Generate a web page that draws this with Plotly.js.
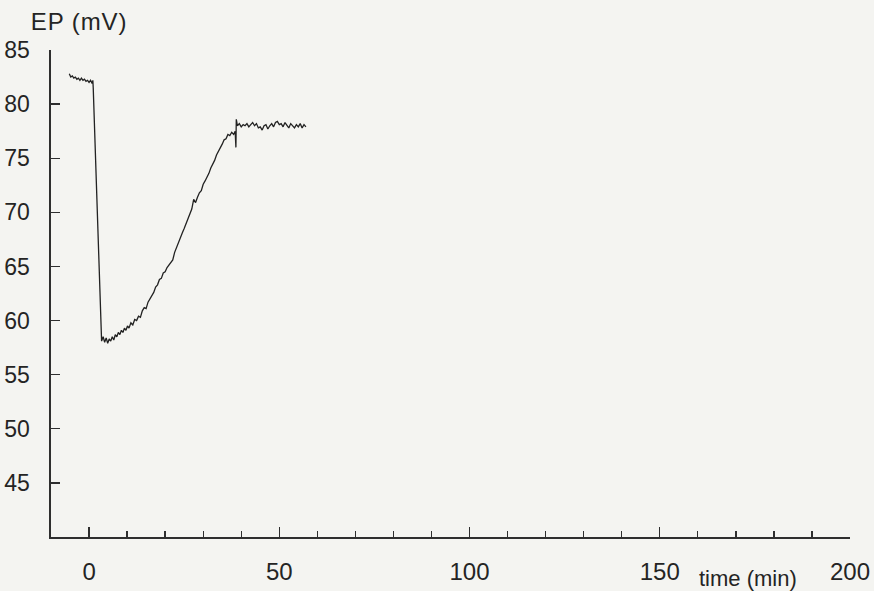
<!DOCTYPE html>
<html>
<head>
<meta charset="utf-8">
<script src="https://cdn.plot.ly/plotly-3.0.1.min.js"></script>
<style>
html,body{margin:0;padding:0;background:#f4f4f1;}
#chart{width:874px;height:591px;}
.annotation-text.ep-title{letter-spacing:0.9px;}
</style>
</head>
<body>
<div id="chart"></div>
<script>
// Time (min) and endocochlear potential EP (mV)
const timeMin = [
  -5.2,-4.8,-4.4,-4.0,-3.6,-3.2,-2.8,-2.4,-2.0,-1.6,-1.2,-0.8,-0.4,0.0,0.4,0.8,1.0,1.1,
  3.3,3.7,4.1,4.5,4.9,5.3,5.7,6.1,6.5,6.9,7.3,7.7,8.1,8.5,8.9,9.3,9.7,10.1,10.5,
  11.0,11.5,12.0,12.5,13.0,13.5,14.0,14.5,15.0,15.5,16.0,16.5,17.0,17.5,18.0,18.5,19.0,19.5,20.0,
  20.5,21.0,21.5,22.0,22.5,23.0,23.5,24.0,24.5,25.0,25.5,26.0,26.5,27.0,27.5,28.0,28.5,29.0,29.5,30.0,
  30.5,31.0,31.5,32.0,32.5,33.0,33.5,34.0,34.5,35.0,35.5,36.0,36.5,37.0,37.5,38.0,38.4,38.6,38.7,
  39.0,39.5,40.0,40.5,41.0,41.5,42.0,42.5,43.0,43.5,44.0,44.5,45.0,45.5,46.0,46.5,47.0,47.5,48.0,
  48.5,49.0,49.5,50.0,50.5,51.0,51.5,52.0,52.5,53.0,53.5,54.0,54.5,55.0,55.5,56.0,56.5,57.0
];
const epMv = [
  82.8,82.5,82.6,82.4,82.5,82.3,82.4,82.2,82.4,82.2,82.3,82.1,82.2,82.0,82.2,81.9,82.2,81.5,
  58.1,58.5,58.0,58.4,57.9,58.3,58.1,58.5,58.2,58.7,58.5,58.9,58.7,59.1,58.9,59.3,59.1,59.5,59.3,
  59.8,59.6,60.1,60.0,60.4,60.3,60.9,61.2,61.1,61.7,62.0,62.4,62.6,63.1,63.3,63.8,63.9,64.4,64.5,
  64.9,65.1,65.4,65.6,66.3,66.8,67.2,67.6,68.1,68.5,69.0,69.3,69.9,70.3,71.2,70.9,71.4,71.8,72.0,72.6,
  72.9,73.2,73.6,74.1,74.4,74.8,75.3,75.6,76.0,76.3,76.7,76.8,77.2,77.1,77.4,77.2,77.5,76.0,78.6,
  78.0,78.2,77.9,78.1,78.0,78.2,77.9,78.1,78.3,78.0,78.2,77.8,77.9,77.6,78.0,78.1,77.7,78.0,78.2,
  77.9,78.3,78.4,78.1,78.2,77.9,78.3,78.1,77.8,78.2,78.0,77.8,78.1,77.9,78.2,77.8,78.1,77.9
];
const yTicks = [45, 50, 55, 60, 65, 70, 75, 80, 85];
const xTicks = [0, 50, 100, 150, 200];

const trace = {
  x: timeMin, y: epMv, type: 'scatter', mode: 'lines',
  line: {color: '#222222', width: 1.3},
  hoverinfo: 'skip'
};

const txt = '#242424';
const layout = {
  width: 874, height: 591,
  margin: {l: 51, r: 24, t: 50, b: 54},
  paper_bgcolor: '#f4f4f1', plot_bgcolor: '#f4f4f1',
  showlegend: false,
  xaxis: {
    range: [-10, 200], showgrid: false, zeroline: false,
    showline: true, linecolor: '#2e2e2e', linewidth: 1.6,
    tickmode: 'array', tickvals: xTicks, ticktext: xTicks.map(String),
    ticks: 'inside', ticklen: 10, tickwidth: 1.4, tickcolor: '#2e2e2e',
    ticklabelstandoff: 13,
    tickfont: {family: 'Liberation Sans, Arial, sans-serif', size: 24, color: txt},
    minor: {dtick: 10, tick0: 0, ticks: 'inside', ticklen: 6, tickwidth: 1.3, tickcolor: '#2e2e2e', showgrid: false}
  },
  yaxis: {
    range: [40, 85], showgrid: false, zeroline: false,
    showline: true, linecolor: '#2e2e2e', linewidth: 1.6,
    tickmode: 'array', tickvals: yTicks, ticktext: yTicks.map(String),
    ticks: 'inside', ticklen: 9, tickwidth: 1.4, tickcolor: '#2e2e2e',
    ticklabelstandoff: 15,
    tickfont: {family: 'Liberation Sans, Arial, sans-serif', size: 23, color: txt}
  },
  annotations: [
    {text: 'EP (mV)', xref: 'paper', yref: 'paper', x: (32 - 51) / 799, y: (537 - 21) / 487,
     xanchor: 'left', yanchor: 'middle', showarrow: false,
     font: {family: 'Liberation Sans, Arial, sans-serif', size: 24, color: txt}},
    {text: 'time (min)', xref: 'paper', yref: 'paper', x: (748 - 51) / 799, y: (537 - 578) / 487,
     xanchor: 'center', yanchor: 'middle', showarrow: false,
     font: {family: 'Liberation Sans Narrow, Arial Narrow, Liberation Sans, sans-serif', size: 22, color: txt}}
  ]
};

Plotly.newPlot('chart', [trace], layout, {displayModeBar: false, staticPlot: true}).then(function () {
  const a = document.querySelectorAll('.annotation-text');
  if (a.length) a[0].classList.add('ep-title');
});
</script>
</body>
</html>
